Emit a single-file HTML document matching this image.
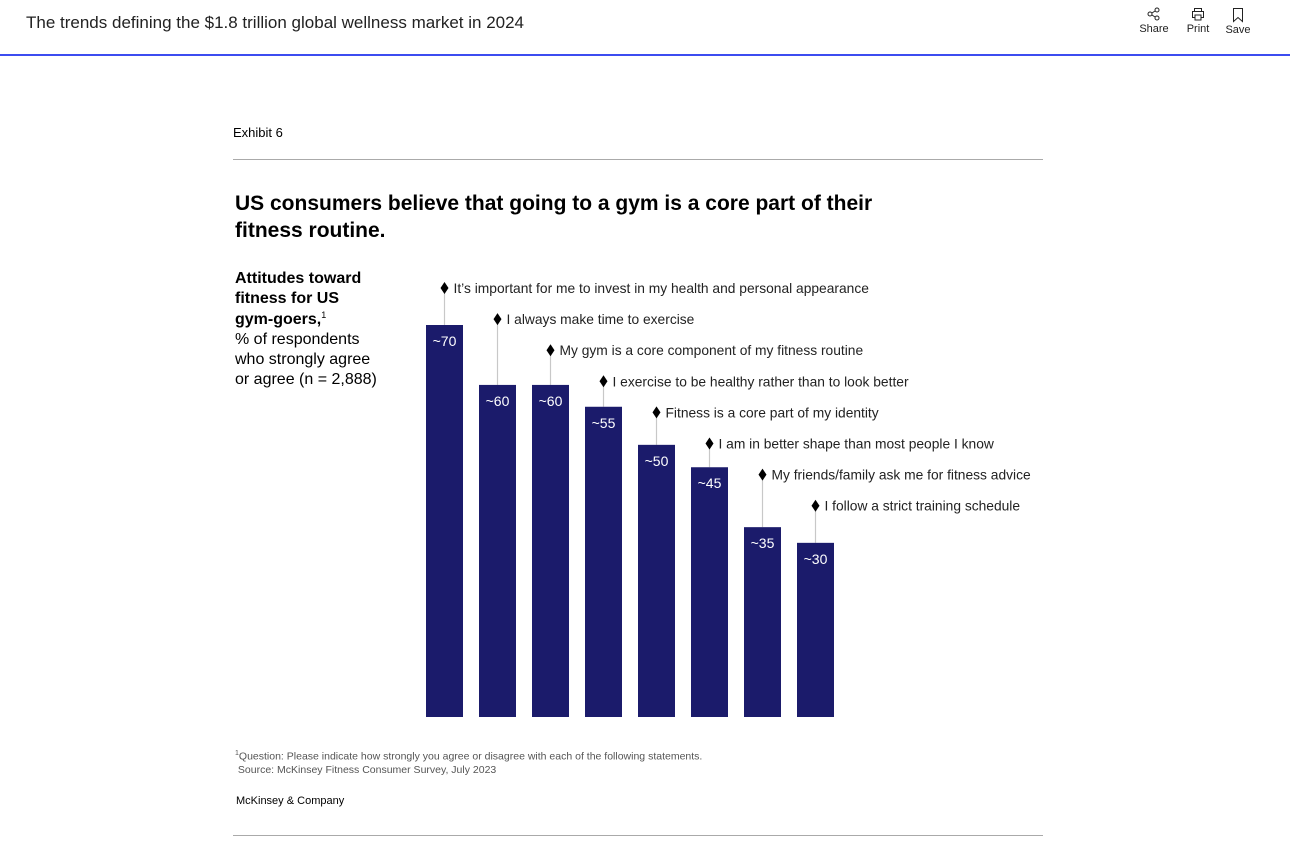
<!DOCTYPE html>
<html><head><meta charset="utf-8">
<style>
body{margin:0;width:1290px;height:853px;background:#fff;font-family:"Liberation Sans",sans-serif;position:relative;overflow:hidden;color:#000}
.abs{position:absolute}
</style></head><body>
<div class="abs" style="left:26px;top:13px;font-size:17px;color:#222">The trends defining the $1.8 trillion global wellness market in 2024</div>
<div class="abs" style="left:1138px;top:7px;width:32px;text-align:center;font-size:11px;color:#222">
<svg width="14" height="14" viewBox="0 0 14 14" style="display:block;margin:0 auto 2px"><circle cx="10" cy="3" r="2" fill="none" stroke="#222"/><circle cx="3" cy="7" r="2" fill="none" stroke="#222"/><circle cx="10" cy="11" r="2" fill="none" stroke="#222"/><path d="M5 6L8 4M5 8L8 10" stroke="#222"/></svg>Share</div>
<div class="abs" style="left:1184px;top:7px;width:28px;text-align:center;font-size:11px;color:#222">
<svg width="14" height="14" viewBox="0 0 14 14" style="display:block;margin:0 auto 2px"><rect x="3.5" y="1.5" width="7" height="3" fill="none" stroke="#222"/><rect x="1.5" y="4.5" width="11" height="6" fill="none" stroke="#222"/><rect x="4" y="8" width="6" height="5" fill="#fff" stroke="#222"/></svg>Print</div>
<div class="abs" style="left:1224px;top:7px;width:28px;text-align:center;font-size:11px;color:#222">
<svg width="14" height="16" viewBox="0 0 14 16" style="display:block;margin:0 auto 1px"><path d="M2.5 1.5H11.5V14.5L7 10.5L2.5 14.5Z" fill="none" stroke="#222"/></svg>Save</div>
<div class="abs" style="left:0;top:54px;width:1290px;height:2px;background:#3c4cf0"></div>

<div class="abs" style="left:233px;top:125px;font-size:13px">Exhibit 6</div>
<div class="abs" style="left:233px;top:159px;width:810px;height:1px;background:#aaa"></div>
<div class="abs" style="left:235px;top:190px;font-size:21px;font-weight:bold;line-height:27px;width:700px">US consumers believe that going to a gym is a core part of their<br>fitness routine.</div>
<div class="abs" style="left:235px;top:269px;font-size:16px;line-height:20.3px;width:190px;white-space:nowrap"><b>Attitudes toward<br>fitness for US<br>gym-goers,</b><span style="font-size:9px;line-height:0;position:relative;top:-6px">1</span><br>% of respondents<br>who strongly agree<br>or agree (n = 2,888)</div>

<svg class="abs" style="left:0;top:0" width="1290" height="853" id="chart"></svg>

<div class="abs" style="left:235px;top:747px;font-size:10.5px;color:#555;line-height:13px"><sup style="font-size:7px">1</sup>Question: Please indicate how strongly you agree or disagree with each of the following statements.<br>&nbsp;Source: McKinsey Fitness Consumer Survey, July 2023</div>
<div class="abs" style="left:236px;top:795px;font-size:11px">McKinsey &amp; Company</div>
<div class="abs" style="left:233px;top:835px;width:810px;height:1px;background:#aaa"></div>

<script>
const categories=["It’s important for me to invest in my health and personal appearance","I always make time to exercise","My gym is a core component of my fitness routine","I exercise to be healthy rather than to look better","Fitness is a core part of my identity","I am in better shape than most people I know","My friends/family ask me for fitness advice","I follow a strict training schedule"];
const values=[70,59.3,59.3,55.4,48.6,44.6,33.9,31.1];
const valueLabels=["~70","~60","~60","~55","~50","~45","~35","~30"];
const NS="http://www.w3.org/2000/svg";
const svg=document.getElementById('chart');
const baseY=717, pxPer=5.6, x0=426, pitch=53, bw=37;
const xPos=i=>x0+i*pitch;
const yPos=v=>baseY-v*pxPer;
function mk(t,a){const e=document.createElementNS(NS,t);for(const k in a)e.setAttribute(k,a[k]);svg.appendChild(e);return e;}
categories.forEach((c,i)=>{
  const x=xPos(i), top=yPos(values[i]), cx=x+bw/2;
  const ly=288+i*31.1;
  const line=mk('line',{x1:cx,x2:cx,y1:ly,y2:top,stroke:'#c8c8c8','stroke-width':1.2});
  
  
  const bar=mk('rect',{x:x,y:top,width:bw,height:baseY-top,fill:'#1b1b6b'});
  
  
  const d=mk('path',{d:`M${cx} ${ly-6}L${cx+4} ${ly}L${cx} ${ly+6}L${cx-4} ${ly}Z`,fill:'#000'});
  
  
  const t=mk('text',{x:cx+9,y:ly+5,'font-size':13.8,fill:'#222','font-family':'Liberation Sans, sans-serif'});
  t.textContent=c;
  
  
  const v=mk('text',{x:cx,y:top+21,'font-size':14,fill:'#fff','text-anchor':'middle','font-family':'Liberation Sans, sans-serif'});
  v.textContent=valueLabels[i];
  
  
});
</script>
</body></html>
